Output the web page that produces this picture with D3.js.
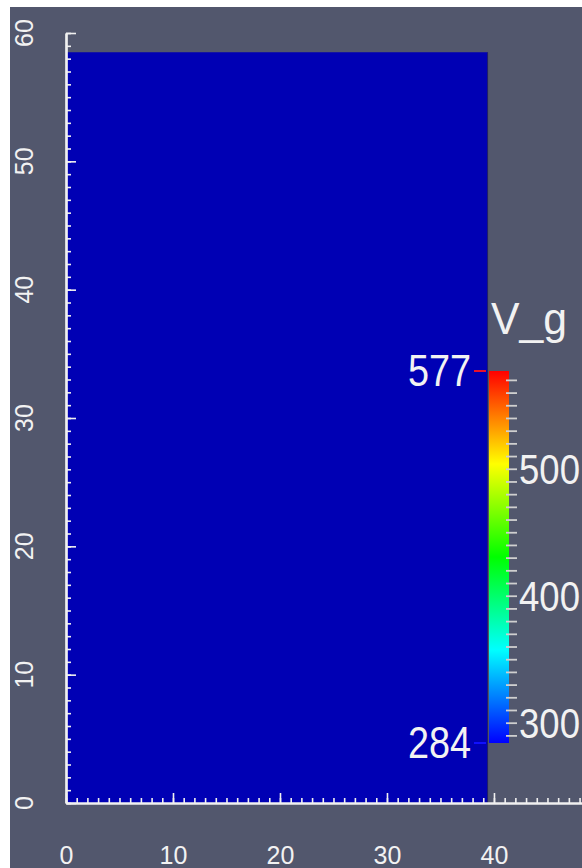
<!DOCTYPE html>
<html>
<head>
<meta charset="utf-8">
<script src="https://cdn.jsdelivr.net/npm/d3@7"></script>
<style>
  html, body { margin: 0; padding: 0; background: #ffffff; }
  svg { display: block; }
  text { font-family: "Liberation Sans", Arial, sans-serif; fill: #f2f2f2; }
</style>
</head>
<body>
<div id="chart"></div>
<script>
// ---- data ----
const xTicks = [0, 10, 20, 30, 40];
const yTicks = [0, 10, 20, 30, 40, 50, 60];
const xDomain = [0, 48.2];
const yDomain = [0, 60];
const fieldX = [0, 39.4];      // extent of the coloured field in x
const fieldY = [0, 58.5];      // extent of the coloured field in y
const fieldValue = [284];      // uniform value of V_g over the field
const cbRange = [284, 577];    // colour bar min / max
const cbTicks = [300, 400, 500];
const cbTitle = "V_g";

const W = 582, H = 868;
const svg = d3.select("#chart").append("svg").attr("width", W).attr("height", H);

// background (white strip at top/left, grey elsewhere)
svg.append("rect").attr("x", 0).attr("y", 0).attr("width", W).attr("height", H).attr("fill", "#ffffff");
svg.append("rect").attr("x", 10).attr("y", 7).attr("width", W - 10).attr("height", H - 7).attr("fill", "#52576d");

const x = d3.scaleLinear().domain(xDomain).range([66, 581.7]);
const y = d3.scaleLinear().domain(yDomain).range([803, 33]);
const c = d3.scaleLinear().domain(cbRange).range([743, 371]);

// rainbow colour map: blue (min) -> red (max)
const cmap = v => {
  const t = (v - cbRange[0]) / (cbRange[1] - cbRange[0]);
  return d3.hsl(240 * (1 - t), 1, 0.5).toString();
};

// field (shaded)
svg.append("rect")
  .attr("x", x(fieldX[0])).attr("y", y(fieldY[1]))
  .attr("width", x(fieldX[1]) - x(fieldX[0]))
  .attr("height", y(fieldY[0]) - y(fieldY[1]))
  .attr("fill", d3.color(cmap(fieldValue[0])).darker(0.98));
svg.append("line")
  .attr("x1", x(fieldX[1])).attr("x2", x(fieldX[1]))
  .attr("y1", y(fieldY[1])).attr("y2", y(fieldY[0]))
  .attr("stroke", "#20206a").attr("stroke-width", 1);

// ---- x axis ----
const axisCol = "#f0f0f0";
const xMinor = d3.range(0, 49, 1);
const gxMinor = svg.append("g").attr("transform", "translate(0,803)")
  .call(d3.axisBottom(x).tickValues(xMinor).tickSize(-5).tickSizeOuter(0).tickFormat(""));
const gxMajor = svg.append("g").attr("transform", "translate(0,803)")
  .call(d3.axisBottom(x).tickValues(xTicks).tickSize(-10).tickSizeOuter(0).tickFormat(d3.format("d")));
[gxMinor, gxMajor].forEach(g => {
  g.selectAll(".tick line").attr("stroke", axisCol).attr("stroke-width", 1.6);
  g.select(".domain").attr("stroke", axisCol).attr("stroke-width", 2.2);
});
gxMajor.selectAll("text")
  .attr("y", 61).attr("dy", 0)
  .attr("font-size", 25)
  .attr("fill", "#f2f2f2")
  .style("font-family", "Liberation Sans, Arial, sans-serif");

// ---- y axis ----
const yMinor = d3.range(0, 61, 1);
const gyMinor = svg.append("g").attr("transform", "translate(66,0)")
  .call(d3.axisRight(y).tickValues(yMinor).tickSize(5).tickSizeOuter(0).tickFormat(""));
const gyMajor = svg.append("g").attr("transform", "translate(66,0)")
  .call(d3.axisRight(y).tickValues(yTicks).tickSize(10).tickSizeOuter(0).tickFormat(""));
[gyMinor, gyMajor].forEach(g => {
  g.selectAll(".tick line").attr("stroke", axisCol).attr("stroke-width", 1.6);
  g.select(".domain").attr("stroke", axisCol).attr("stroke-width", 2.2);
});
svg.append("g").selectAll("text").data(yTicks).join("text")
  .attr("transform", d => `translate(33,${y(d)}) rotate(-90)`)
  .attr("text-anchor", "middle")
  .attr("font-size", 25)
  .text(d3.format("d"));

// ---- colour bar ----
const defs = svg.append("defs");
const grad = defs.append("linearGradient").attr("id", "cb")
  .attr("x1", 0).attr("y1", 1).attr("x2", 0).attr("y2", 0);
d3.range(0, 1.0001, 1 / 32).forEach(t => {
  grad.append("stop").attr("offset", t)
    .attr("stop-color", cmap(cbRange[0] + t * (cbRange[1] - cbRange[0])));
});
svg.append("rect")
  .attr("x", 489).attr("y", c(cbRange[1]))
  .attr("width", 20).attr("height", c(cbRange[0]) - c(cbRange[1]))
  .attr("fill", "url(#cb)");

const cbMinor = d3.range(290, 577, 10);
const gcb = svg.append("g").attr("transform", "translate(506,0)")
  .call(d3.axisRight(c).tickValues(cbMinor).tickSize(11).tickSizeOuter(0).tickFormat(""));
gcb.select(".domain").remove();
gcb.selectAll(".tick line").attr("stroke", "#cfcfcf").attr("stroke-width", 1.8);

// colour bar labels
svg.append("g").selectAll("g").data(cbTicks).join("g")
  .attr("transform", d => `translate(519,${c(d) + 15}) scale(0.87,1)`)
  .append("text").attr("font-size", 42).text(d3.format("d"));

// range labels with small coloured marks
const rangeLabels = [cbRange[1], cbRange[0]];
svg.append("g").selectAll("line").data(rangeLabels).join("line")
  .attr("x1", 474).attr("x2", 486)
  .attr("y1", d => c(d)).attr("y2", d => c(d))
  .attr("stroke", d => d === cbRange[1] ? "#e8102a" : "#1010ff")
  .attr("stroke-width", 2);
svg.append("g").selectAll("g").data(rangeLabels).join("g")
  .attr("transform", d => `translate(471,${c(d) + 15}) scale(0.86,1)`)
  .append("text").attr("font-size", 44).attr("text-anchor", "end").text(d3.format("d"));

// title
svg.append("g").attr("transform", "translate(491,334) scale(0.95,1)")
  .append("text").attr("font-size", 45).text(cbTitle);
</script>
</body>
</html>
